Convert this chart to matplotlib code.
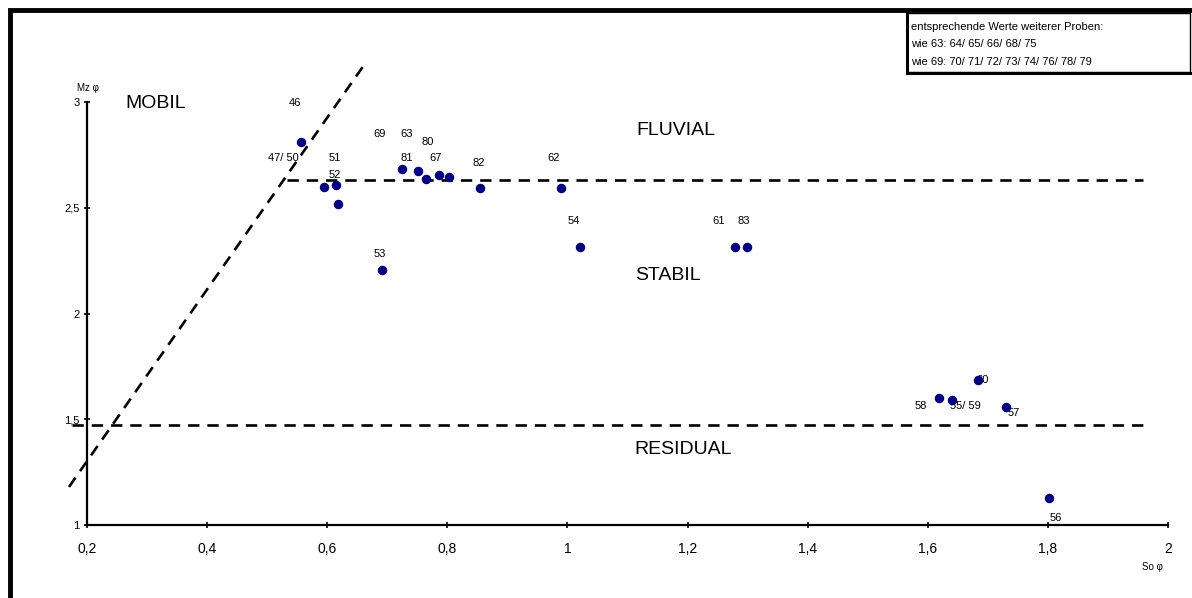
import matplotlib
matplotlib.use("Agg")
import matplotlib.pyplot as plt
from matplotlib.patches import Rectangle
from matplotlib.lines import Line2D

plt.rcParams['font.family'] = ['Liberation Sans', 'DejaVu Sans']

# ---- data ----
labels = ["46", "47/ 50", "51", "52", "53", "69", "63", "81", "80", "67",
          "82", "62", "54", "61", "83", "60", "58", "55/ 59", "57", "56"]
so_phi = [0.556, 0.595, 0.615, 0.618, 0.692, 0.724, 0.751, 0.764, 0.786, 0.802,
          0.854, 0.989, 1.021, 1.279, 1.299, 1.683, 1.619, 1.641, 1.731, 1.802]
mz_phi = [2.811, 2.600, 2.609, 2.518, 2.206, 2.683, 2.674, 2.636, 2.656, 2.645,
          2.592, 2.592, 2.316, 2.316, 2.316, 1.686, 1.602, 1.592, 1.557, 1.126]
# label offsets in pixels (dx, dy downward)
label_dx = [-6, -41, -1, -3, -3, -22, -11, -19, -11, -13, -1, -7, -6, -16, -3, 5, -18, 13, 7, 7]
label_dy = [-39, -29, -27, -29, -16, -35, -37, -21, -33, -19, -25, -30, -26, -26, -26, 0, 8, 6, 6, 20]

x_ticks = [0.2, 0.4, 0.6, 0.8, 1.0, 1.2, 1.4, 1.6, 1.8, 2.0]
x_ticklabels = ["0,2", "0,4", "0,6", "0,8", "1", "1,2", "1,4", "1,6", "1,8", "2"]
y_ticks = [1.0, 1.5, 2.0, 2.5, 3.0]
y_ticklabels = ["1", "1,5", "2", "2,5", "3"]

# boundary lines
diag_x = [0.170, 0.665]
diag_y = [1.180, 3.190]
upper_x = [0.533, 1.958]
upper_y = [2.631, 2.631]
lower_x = [0.175, 1.958]
lower_y = [1.473, 1.473]

regions = ["MOBIL", "FLUVIAL", "STABIL", "RESIDUAL"]
region_x = [0.315, 1.181, 1.167, 1.192]
region_y = [2.991, 2.863, 2.182, 1.355]

legend_lines = ["entsprechende Werte weiterer Proben:",
                "wie 63: 64/ 65/ 66/ 68/ 75",
                "wie 69: 70/ 71/ 72/ 73/ 74/ 76/ 78/ 79"]

# ---- figure ----
W, H = 1192, 598
fig = plt.figure(figsize=(W / 100, H / 100), dpi=100)
ax = fig.add_axes([87 / W, 1 - 525 / H, (1168 - 87) / W, (525 - 102) / H])
ax.set_xlim(0.2, 2.0)
ax.set_ylim(1.0, 3.0)
for s in ["top", "right"]:
    ax.spines[s].set_visible(False)
for s in ["left", "bottom"]:
    ax.spines[s].set_linewidth(1.6)
    ax.spines[s].set_color("black")

ax.set_xticks(x_ticks)
ax.set_xticklabels(x_ticklabels, fontsize=10)
ax.set_yticks(y_ticks)
ax.set_yticklabels(y_ticklabels, fontsize=8)
ax.tick_params(axis="x", direction="inout", length=5, width=1.2, pad=10)
ax.tick_params(axis="y", direction="inout", length=5, width=1.2, pad=3)

dash = (0, (4.3, 3.0))
for xs, ys in [(diag_x, diag_y), (upper_x, upper_y), (lower_x, lower_y)]:
    ax.plot(xs, ys, color="black", lw=1.9, linestyle=dash, clip_on=False, zorder=2)

ax.scatter(so_phi, mz_phi, s=34, color="#000080", zorder=4, clip_on=False)

for lab, x, y, dx, dy in zip(labels, so_phi, mz_phi, label_dx, label_dy):
    ax.annotate(lab, (x, y), xytext=(dx * 0.72, -dy * 0.72), textcoords="offset points",
                ha="center", va="center", fontsize=8, zorder=3)

for r, x, y in zip(regions, region_x, region_y):
    ax.text(x, y, r, ha="center", va="center", fontsize=14)

fig.text(88 / W, 1 - 88 / H, "Mz φ", ha="center", va="center", fontsize=7)
fig.text(1152 / W, 1 - 567 / H, "So φ", ha="center", va="center", fontsize=7)

# outer frame
fig.patches.append(Rectangle((9.5 / W, -0.1), 1.2, 1 - 9.5 / H + 0.1, transform=fig.transFigure,
                             fill=False, edgecolor="black", lw=3.5, zorder=10))
# legend box
bx0, by0, bx1, by1 = 907, 13, 1190, 72
fig.patches.append(Rectangle((bx0 / W, 1 - by1 / H), (bx1 - bx0) / W, (by1 - by0) / H,
                             transform=fig.transFigure, fill=False, edgecolor="black", lw=1, zorder=10))
fig.lines.append(Line2D([bx0 / W, bx0 / W], [1 - by0 / H, 1 - (by1 + 1) / H], transform=fig.transFigure,
                        color="black", lw=2.2))
fig.lines.append(Line2D([bx0 / W, bx1 / W], [1 - (by1 + 1) / H, 1 - (by1 + 1) / H], transform=fig.transFigure,
                        color="black", lw=2.2))
for i, t in enumerate(legend_lines):
    fig.text(911 / W, 1 - (27 + 17.3 * i) / H, t, ha="left", va="center", fontsize=8)

fig.savefig("out.png", dpi=100)
